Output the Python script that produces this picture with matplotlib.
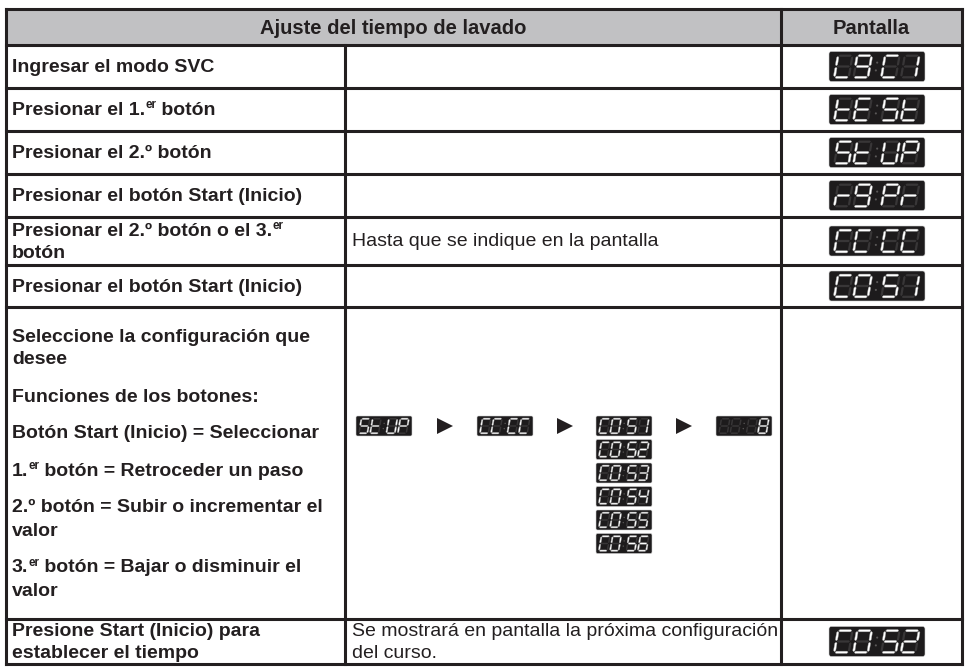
import re
import matplotlib
matplotlib.use('Agg')
import matplotlib.pyplot as plt
from matplotlib.patches import Rectangle, Polygon, FancyBboxPatch, Circle
from matplotlib import font_manager as fm

# table content
header = ['Ajuste del tiempo de lavado', 'Pantalla']

# each step: list of items, each item a list of wrapped lines ({..} = superscript)
steps = [
    [['Ingresar el modo SVC']],
    [['Presionar el 1.{er} botón']],
    [['Presionar el 2.º botón']],
    [['Presionar el botón Start (Inicio)']],
    [['Presionar el 2.º botón o el 3.{er}', 'botón']],
    [['Presionar el botón Start (Inicio)']],
    [['Seleccione la configuración que', 'desee'],
     ['Funciones de los botones:'],
     ['Botón Start (Inicio) = Seleccionar'],
     ['1.{er} botón = Retroceder un paso'],
     ['2.º botón = Subir o incrementar el', 'valor'],
     ['3.{er} botón = Bajar o disminuir el', 'valor']],
    [['Presione Start (Inicio) para', 'establecer el tiempo']],
]
notes = [[], [], [], [], ['Hasta que se indique en la pantalla'], [], [],
         ['Se mostrará en pantalla la próxima configuración', 'del curso.']]
screens = ['L9C1', 'tESt', 'StUP', 'r9Pr', 'CCCC', 'C0S1', '', 'C0S2']
flow = ['StUP', 'CCCC', 'C0S1', '   8']
course_list = ['C0S1', 'C0S2', 'C0S3', 'C0S4', 'C0S5', 'C0S6']

# layout (pixels)
W, H = 966, 667
x_edges = [6, 345, 781, 962]
y_edges = [9, 45, 88, 131, 174, 217, 265, 307, 619, 664]

def pick(*names):
    for n in names:
        try:
            fm.findfont(fm.FontProperties(family=n), fallback_to_default=False)
            return n
        except ValueError:
            pass
    return 'DejaVu Sans'

FAM = pick('Liberation Sans Narrow', 'Liberation Sans')
FS = 14
INK = '#231f20'

fig = plt.figure(figsize=(W / 100, H / 100), dpi=100)
ax = fig.add_axes([0, 0, 1, 1])
ax.set_xlim(0, W)
ax.set_ylim(H, 0)
ax.axis('off')
rend = fig.canvas.get_renderer()

# header background
ax.add_patch(Rectangle((x_edges[0], y_edges[0]), x_edges[3] - x_edges[0],
                       y_edges[1] - y_edges[0], fc='#c1c1c3', ec='none'))

# grid lines
lw = 2.2
for y in y_edges:
    ax.plot([x_edges[0], x_edges[3]], [y, y], color=INK, lw=lw, solid_capstyle='projecting')
ax.plot([x_edges[0]] * 2, [y_edges[0], y_edges[-1]], color=INK, lw=lw)
ax.plot([x_edges[3]] * 2, [y_edges[0], y_edges[-1]], color=INK, lw=lw)
ax.plot([x_edges[2]] * 2, [y_edges[0], y_edges[-1]], color=INK, lw=lw)
ax.plot([x_edges[1]] * 2, [y_edges[1], y_edges[-1]], color=INK, lw=lw)

ax.text((x_edges[0] + x_edges[2]) / 2, (y_edges[0] + y_edges[1]) / 2 + 1, header[0],
        family=FAM, weight='bold', fontsize=FS + 0.5, ha='center', va='center', color=INK)
ax.text((x_edges[2] + x_edges[3]) / 2, (y_edges[0] + y_edges[1]) / 2 + 1, header[1],
        family=FAM, weight='bold', fontsize=FS + 0.5, ha='center', va='center', color=INK)


def line_text(x, y, line, weight):
    for p in re.split(r'(\{[^}]*\})', line):
        if not p:
            continue
        if p.startswith('{'):
            t = ax.text(x, y - 5, p[1:-1], family=FAM, weight=weight, fontsize=FS * 0.6,
                        ha='left', va='center', color=INK)
        else:
            t = ax.text(x, y, p, family=FAM, weight=weight, fontsize=FS,
                        ha='left', va='center', color=INK)
        x += t.get_window_extent(renderer=rend).width


WRAP, GAP = 23, 37


def cell_text(x, y0, y1, items, weight, wrap=WRAP):
    n_wrap = sum(len(it) - 1 for it in items)
    span = n_wrap * wrap + (len(items) - 1) * GAP
    y = (y0 + y1) / 2 - span / 2 + 1
    for it in items:
        for k, ln in enumerate(it):
            line_text(x, y, ln, weight)
            y += wrap if k < len(it) - 1 else GAP


# seven segment display
SEGS = {'0': 'abcdef', '1': 'bc', '2': 'abdeg', '3': 'abcdg', '4': 'bcfg', '5': 'acdfg',
        '6': 'acdefg', '7': 'abc', '8': 'abcdefg', '9': 'abcdfg', 'L': 'def', 'C': 'adef',
        't': 'defg', 'E': 'adefg', 'S': 'acdfg', 'U': 'bcdef', 'P': 'abefg', 'r': 'eg', ' ': ''}


def bar(x0, y0, x1, y1, t):
    h = t / 2
    if y0 == y1:
        return [(x0, y0), (x0 + h, y0 - h), (x1 - h, y0 - h), (x1, y0), (x1 - h, y0 + h), (x0 + h, y0 + h)]
    return [(x0, y0), (x0 + h, y0 + h), (x0 + h, y1 - h), (x0, y1), (x0 - h, y1 - h), (x0 - h, y0 + h)]


def digit(cx, cy, w, h, t, ch):
    g = t * 0.3
    l, r, tp, md, bt = cx - w / 2, cx + w / 2, cy - h / 2, cy, cy + h / 2
    segs = {'a': bar(l + g, tp, r - g, tp, t), 'g': bar(l + g, md, r - g, md, t),
            'd': bar(l + g, bt, r - g, bt, t), 'f': bar(l, tp + g, l, md - g, t),
            'b': bar(r, tp + g, r, md - g, t), 'e': bar(l, md + g, l, bt - g, t),
            'c': bar(r, md + g, r, bt - g, t)}
    on = SEGS[ch]
    for s, pts in segs.items():
        pts = [(px - 0.17 * (py - cy), py) for px, py in pts]
        ax.add_patch(Polygon(pts, closed=True, fc='#ffffff' if s in on else '#383637',
                             ec='#9a9a9a' if s in on else 'none', lw=0.3))


def chip(x, y, w, h, text):
    ax.add_patch(FancyBboxPatch((x, y), w, h, boxstyle='round,pad=0,rounding_size=%.1f' % (h * 0.08),
                                fc='#1d1b1c', ec='#d0d0d0', lw=0.4))
    cy = y + h / 2
    for f, ch in zip([0.15, 0.35, 0.64, 0.845], text.ljust(4)):
        digit(x + f * w, cy, 0.15 * w, 0.72 * h, 0.075 * h, ch)
    for dy in (-0.13, 0.13):
        ax.add_patch(Circle((x + 0.495 * w - 0.17 * dy * h, cy + dy * h), 0.035 * h, fc='#5a5858', ec='none'))


for i, items in enumerate(steps):
    y0, y1 = y_edges[i + 1], y_edges[i + 2]
    cell_text(x_edges[0] + 6, y0, y1, items, 'bold', wrap=22 if len(items) == 1 else WRAP)
    if notes[i]:
        cell_text(x_edges[1] + 7, y0, y1, [notes[i]], 'normal', wrap=22)
    if screens[i]:
        ch_h = 30
        chip(829, (y0 + y1) / 2 - ch_h / 2, 96, ch_h, screens[i])

# flow inside the selection row
sw, sh, pitch = 56, 20, 23.5
fx = [356, 477, 596, 716]
fy = 416
for k, s in enumerate(flow):
    if k == 2:
        for j, c in enumerate(course_list):
            chip(fx[k], fy + j * pitch, sw, sh, c)
    else:
        chip(fx[k], fy, sw, sh, s)
for k in range(3):
    ax.plot((fx[k] + sw + fx[k + 1]) / 2, fy + sh / 2, marker='>', ms=11, color=INK, mew=0)

fig.savefig('out.png', dpi=100)
